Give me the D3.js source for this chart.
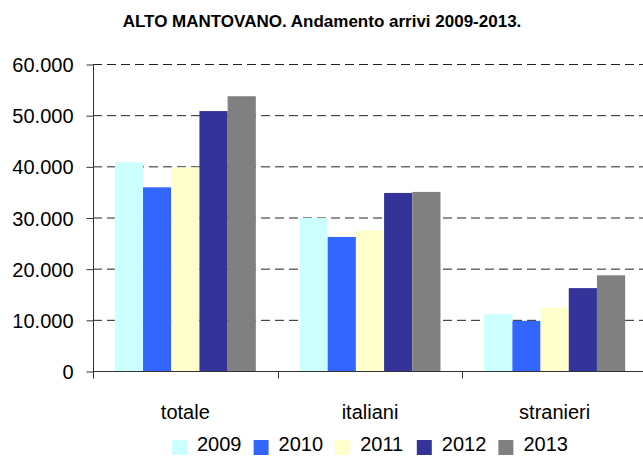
<!DOCTYPE html>
<html><head><meta charset="utf-8">
<script src="https://cdn.jsdelivr.net/npm/d3@7"></script>
<style>body{margin:0;background:#fff}svg{display:block}text{font-family:"Liberation Sans",Arial,sans-serif}</style>
</head><body>
<svg id="c" width="643" height="459"></svg>
<script>
const categories = ["totale", "italiani", "stranieri"];
const years = ["2009", "2010", "2011", "2012", "2013"];
const v2009 = [40800, 29900, 11100];
const v2010 = [35900, 26200, 9800];
const v2011 = [39800, 27500, 12400];
const v2012 = [50800, 34800, 16200];
const v2013 = [53700, 35000, 18700];
const yTicks = [0, 10000, 20000, 30000, 40000, 50000, 60000];
const tickLabels = ["0", "10.000", "20.000", "30.000", "40.000", "50.000", "60.000"];
const colors = ["#CCFFFF", "#3366FF", "#FFFFCC", "#333399", "#808080"];
const title = "ALTO MANTOVANO. Andamento arrivi 2009-2013.";

(function () {
const series = [v2009, v2010, v2011, v2012, v2013];
const svg = d3.select("#c");
const pLeft = 93, pRight = 647, pTop = 64, pBottom = 371;

const x0 = d3.scaleBand().domain(categories).range([pLeft, pRight]).padding(0);
const x1 = d3.scaleBand().domain(years).range([0, x0.bandwidth()]).paddingInner(0).paddingOuter(0.775);
const y = d3.scaleLinear().domain([0, 60000]).range([pBottom, pTop]);

// title
svg.append("text").attr("x", 322).attr("y", 27).attr("text-anchor", "middle")
  .attr("font-size", 17).attr("font-weight", "bold").attr("fill", "#000").text(title);

// gridlines
svg.append("g").selectAll("line").data(yTicks.filter(d => d > 0)).join("line")
  .attr("x1", pLeft).attr("x2", 643).attr("y1", d => y(d) + 0.5).attr("y2", d => y(d) + 0.5)
  .attr("stroke", "#222").attr("stroke-width", 1).attr("stroke-dasharray", "9,5");

// bars
const g = svg.append("g");
categories.forEach((c, ci) => {
  years.forEach((yr, yi) => {
    g.append("rect")
      .attr("x", x0(c) + x1(yr)).attr("width", x1.bandwidth())
      .attr("y", y(series[yi][ci])).attr("height", y(0) - y(series[yi][ci]))
      .attr("fill", colors[yi]);
  });
});

// y axis
const yAxis = d3.axisLeft(y).tickValues(yTicks).tickSize(7).tickSizeOuter(0)
  .tickFormat((d, i) => tickLabels[i]);
const ya = svg.append("g").attr("transform", `translate(${pLeft + 0.5},0.5)`).call(yAxis);
ya.select(".domain").attr("stroke", "#333").attr("d", `M0,${pTop}V${pBottom + 7}`);
ya.selectAll(".tick line").attr("stroke", "#333");
ya.selectAll(".tick text").attr("font-size", 20).attr("fill", "#000").attr("x", -20)
  .attr("dy", "0.35em").style("font-family", '"Liberation Sans",Arial,sans-serif');

// x axis
const xa = svg.append("g").attr("transform", `translate(0,${pBottom + 0.5})`);
xa.append("line").attr("x1", pLeft).attr("x2", 643).attr("stroke", "#333");
xa.selectAll(".xt").data(categories.slice(1)).join("line").attr("class", "xt")
  .attr("x1", d => Math.round(x0(d)) + 0.5).attr("x2", d => Math.round(x0(d)) + 0.5)
  .attr("y1", 0).attr("y2", 7).attr("stroke", "#333");
xa.selectAll(".xl").data(categories).join("text").attr("class", "xl")
  .attr("x", d => x0(d) + x0.bandwidth() / 2).attr("y", 418 - pBottom)
  .attr("text-anchor", "middle").attr("font-size", 20).attr("fill", "#000").text(d => d);

// legend
const lg = svg.append("g");
years.forEach((yr, i) => {
  const lx = 172 + i * 81.6;
  lg.append("rect").attr("x", lx).attr("y", 440).attr("width", 15).attr("height", 15).attr("fill", colors[i]);
  lg.append("text").attr("x", lx + 25).attr("y", 451).attr("font-size", 20).attr("fill", "#000").text(yr);
});
})();
</script>
</body></html>
